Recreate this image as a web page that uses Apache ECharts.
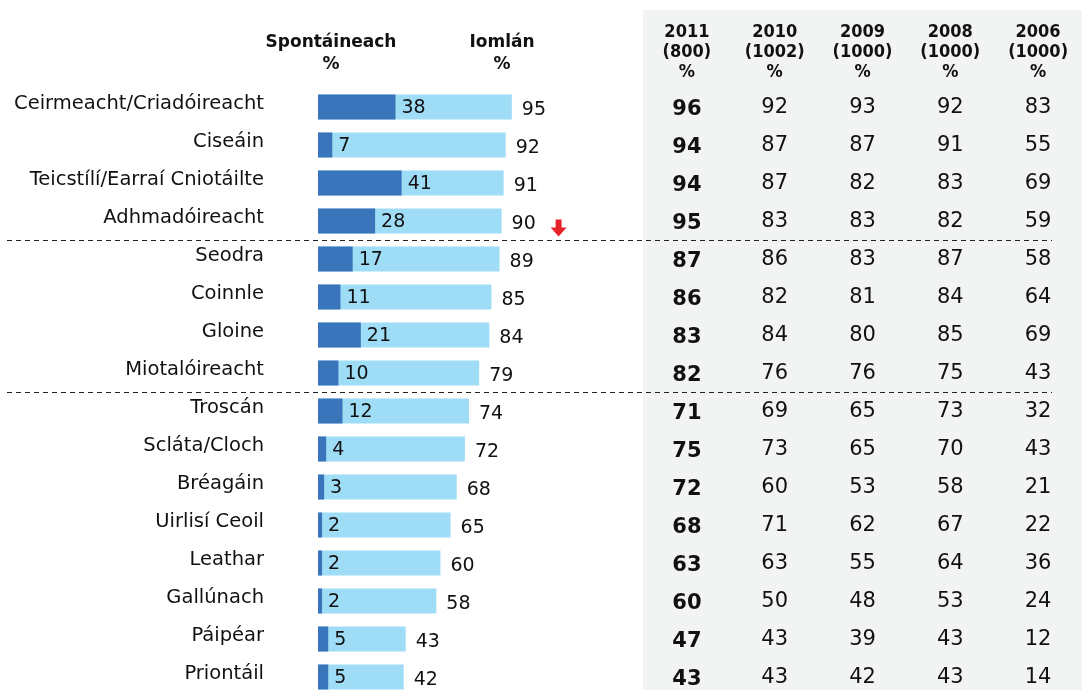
<!DOCTYPE html>
<html>
<head>
<meta charset="utf-8">
<script src="https://cdn.jsdelivr.net/npm/echarts@6/dist/echarts.min.js"></script>
<style>
  html, body { margin: 0; padding: 0; background: #fff; }
  #main { width: 1082px; height: 690px; }
</style>
</head>
<body>
<div id="main"></div>
<script>
// categorie (dall'alto verso il basso)
const categories = ['Ceirmeacht/Criadóireacht', 'Ciseáin', 'Teicstílí/Earraí Cniotáilte', 'Adhmadóireacht',
  'Seodra', 'Coinnle', 'Gloine', 'Miotalóireacht',
  'Troscán', 'Scláta/Cloch', 'Bréagáin', 'Uirlisí Ceoil', 'Leathar', 'Gallúnach', 'Páipéar', 'Priontáil'];
const spontaneous = [38, 7, 41, 28, 17, 11, 21, 10, 12, 4, 3, 2, 2, 2, 5, 5];
const total = [95, 92, 91, 90, 89, 85, 84, 79, 74, 72, 68, 65, 60, 58, 43, 42];

// tabella a destra
const yearHeaders = ['2011\n(800)\n%', '2010\n(1002)\n%', '2009\n(1000)\n%', '2008\n(1000)\n%', '2006\n(1000)\n%'];
const y2011 = [96, 94, 94, 95, 87, 86, 83, 82, 71, 75, 72, 68, 63, 60, 47, 43];
const y2010 = [92, 87, 87, 83, 86, 82, 84, 76, 69, 73, 60, 71, 63, 50, 43, 43];
const y2009 = [93, 87, 82, 83, 83, 81, 80, 76, 65, 65, 53, 62, 55, 48, 39, 42];
const y2008 = [92, 91, 83, 82, 87, 84, 85, 75, 73, 70, 58, 67, 64, 53, 43, 43];
const y2006 = [83, 55, 69, 59, 58, 64, 69, 43, 32, 43, 21, 22, 36, 24, 12, 14];
const yearCols = [y2011, y2010, y2009, y2008, y2006];

// separatori di gruppo (dopo queste righe)
const groupBreaks = [3, 7];

const FONT = 'DejaVu Sans';
const FONT_C = 'DejaVu Sans Condensed';
const chart = echarts.init(document.getElementById('main'));

function tableSeries(col, bold) {
  return {
    type: 'scatter',
    xAxisIndex: 1,
    yAxisIndex: 1,
    symbolSize: 0,
    silent: true,
    itemStyle: { opacity: 1 },
    data: yearCols[col].map((v, i) => [yearHeaders[col], categories[i], v]),
    label: {
      show: true,
      position: 'inside',
      offset: [0, bold ? 3 : 1],
      formatter: p => String(p.value[2]),
      color: '#111',
      textBorderWidth: 0,
      fontFamily: FONT,
      fontSize: 21,
      fontWeight: bold ? 'bold' : 'normal'
    }
  };
}

const option = {
  animation: false,
  graphic: [
    { type: 'rect', z: -10, shape: { x: 643, y: 10, width: 439, height: 680 }, style: { fill: '#f2f3f3' } },
    { type: 'text', style: { x: 331, y: 32, text: 'Spontáineach\n%', align: 'center', fontFamily: FONT, fontSize: 17, fontWeight: 'bold', lineHeight: 22, fill: '#111' } },
    { type: 'text', style: { x: 502, y: 32, text: 'Iomlán\n%', align: 'center', fontFamily: FONT, fontSize: 17, fontWeight: 'bold', lineHeight: 22, fill: '#111' } }
  ],
  grid: [
    { left: 318, top: 88, width: 204, height: 608, outerBoundsMode: 'none' },
    { left: 643, top: 88, width: 439, height: 608, outerBoundsMode: 'none' }
  ],
  xAxis: [
    { type: 'value', gridIndex: 0, min: 0, max: 100, show: false },
    {
      type: 'category', gridIndex: 1, data: yearHeaders, position: 'top',
      axisLine: { show: false }, axisTick: { show: false },
      axisLabel: { fontFamily: FONT_C, fontSize: 18, fontWeight: 'bold', lineHeight: 20, color: '#111', margin: 6, interval: 0 }
    }
  ],
  yAxis: [
    {
      type: 'category', gridIndex: 0, data: categories, inverse: true,
      axisLine: { show: false }, axisTick: { show: false },
      axisLabel: { fontFamily: FONT, fontSize: 19.5, color: '#111', margin: 54, verticalAlign: 'bottom', padding: [0, 0, -7, 0] }
    },
    { type: 'category', gridIndex: 1, data: categories, inverse: true, show: false }
  ],
  series: [
    {
      name: 'Iomlán', type: 'bar', data: total, barWidth: 25, barGap: '-100%',
      itemStyle: { color: '#9fdcf6' },
      label: { show: true, position: 'right', distance: 10, color: '#111', fontFamily: FONT, fontSize: 19, offset: [0, 3] },
      markPoint: {
        symbol: 'path://M5,0 L11,0 L11,8 L16,8 L8,17 L0,8 L5,8 Z',
        symbolSize: [16, 17],
        symbolOffset: [57, 7],
        itemStyle: { color: '#e8222b' },
        label: { show: false },
        data: [{ coord: [total[3], categories[3]] }]
      }
    },
    {
      name: 'Spontáineach', type: 'bar', data: spontaneous, barWidth: 25,
      itemStyle: { color: '#3a74ba' },
      label: { show: true, position: 'right', distance: 6, color: '#111', fontFamily: FONT, fontSize: 19, offset: [0, 1] }
    },
    tableSeries(0, true),
    tableSeries(1, false),
    tableSeries(2, false),
    tableSeries(3, false),
    tableSeries(4, false)
  ]
};

chart.setOption(option);

// linee tratteggiate fra i gruppi
const lines = groupBreaks.map(i => {
  const a = chart.convertToPixel({ yAxisIndex: 0 }, categories[i]);
  const b = chart.convertToPixel({ yAxisIndex: 0 }, categories[i + 1]);
  const y = Math.round((a + b) / 2) + 0.5;
  return {
    type: 'line', z: 5,
    shape: { x1: 7, y1: y, x2: 1052, y2: y },
    style: { stroke: '#222', lineWidth: 1, lineDash: [5, 4] }
  };
});
chart.setOption({ graphic: option.graphic.concat(lines) });
</script>
</body>
</html>
